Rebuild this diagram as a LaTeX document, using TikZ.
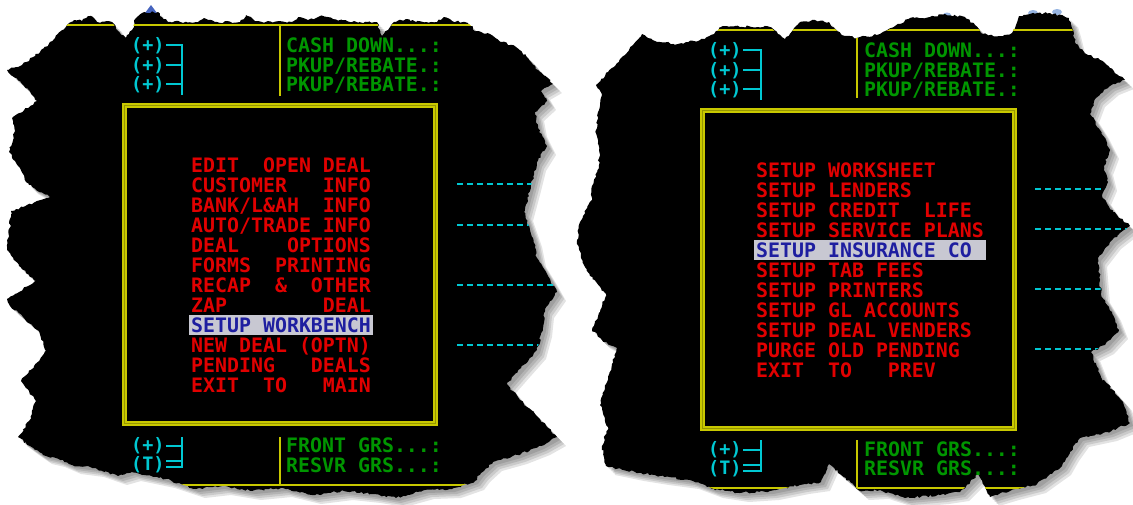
\documentclass[tikz,border=0pt]{standalone}
\usepackage{fontspec}
\setmonofont{DejaVu Sans Mono}
\usetikzlibrary{decorations.pathmorphing}

\definecolor{scrred}{RGB}{225,0,0}
\definecolor{scrgreen}{RGB}{0,150,0}
\definecolor{scrcyan}{RGB}{0,200,210}
\definecolor{ylw}{RGB}{200,200,0}
\definecolor{ylwdark}{RGB}{150,150,0}
\definecolor{barc}{RGB}{200,200,210}
\definecolor{barblue}{RGB}{30,30,160}
\definecolor{topblue}{RGB}{70,100,190}
\definecolor{skyblue}{RGB}{150,180,225}

\def\leftblob{(68,24) -- (74,20) -- (82,21) -- (88,16) -- (93,17) -- (97,22) -- (112,22) -- (118,31) -- (126,38) -- (132,30) -- (136,18) -- (142,13) -- (158,12) -- (162,17) -- (168,22) -- (198,22) -- (204,18) -- (211,20) -- (217,22) -- (240,22) -- (246,15) -- (251,17) -- (255,21) -- (262,22) -- (292,22) -- (300,17) -- (308,20) -- (320,16) -- (333,19) -- (350,22) -- (377,22) -- (382,36) -- (388,30) -- (394,22) -- (406,19) -- (416,22) -- (437,22) -- (444,17) -- (452,21) -- (468,23) -- (476,31) -- (490,34) -- (502,42) -- (516,47) -- (528,58) -- (538,70) -- (553,84) -- (541,91) -- (547,101) -- (535,112) -- (538,128) -- (547,146) -- (537,162) -- (531,186) -- (524,212) -- (533,238) -- (537,258) -- (548,276) -- (557,292) -- (545,309) -- (543,328) -- (537,350) -- (521,368) -- (507,384) -- (520,400) -- (538,417) -- (557,437) -- (541,446) -- (518,455) -- (493,462) -- (481,473) -- (475,481) -- (452,489) -- (425,490) -- (396,498) -- (372,494) -- (344,491) -- (312,495) -- (283,488) -- (252,491) -- (222,486) -- (196,489) -- (166,479) -- (132,472) -- (118,476) -- (95,468) -- (72,465) -- (56,458) -- (43,455) -- (30,446) -- (18,437) -- (29,421) -- (36,401) -- (21,381) -- (34,366) -- (46,351) -- (39,331) -- (10,306) -- (7,299) -- (36,281) -- (19,266) -- (7,250) -- (11,211) -- (50,197) -- (29,185) -- (9,152) -- (15,131) -- (12,118) -- (37,101) -- (24,86) -- (7,70) -- (22,65) -- (40,52) -- (55,38) -- cycle}
\def\rightblob{(596,85) -- (608,72) -- (615,66) -- (625,55) -- (633,45) -- (642,34) -- (648,38) -- (660,42) -- (678,44) -- (700,40) -- (714,34) -- (721,27) -- (735,26) -- (770,27) -- (778,34) -- (785,39) -- (793,30) -- (800,22) -- (815,20) -- (829,22) -- (836,30) -- (845,36) -- (857,38) -- (880,34) -- (900,24) -- (910,18) -- (930,17) -- (945,14) -- (965,17) -- (975,25) -- (983,34) -- (1000,36) -- (1012,33) -- (1019,16) -- (1030,14) -- (1050,13) -- (1069,18) -- (1072,28) -- (1076,44) -- (1086,54) -- (1100,60) -- (1110,68) -- (1125,80) -- (1110,86) -- (1096,98) -- (1090,114) -- (1100,130) -- (1110,150) -- (1104,166) -- (1108,182) -- (1102,196) -- (1113,212) -- (1130,226) -- (1112,240) -- (1098,258) -- (1101,294) -- (1112,312) -- (1119,330) -- (1105,345) -- (1091,352) -- (1101,377) -- (1123,402) -- (1130,423) -- (1108,432) -- (1080,438) -- (1070,452) -- (1062,466) -- (1048,476) -- (1037,484) -- (1010,491) -- (990,497) -- (978,474) -- (960,492) -- (940,495) -- (905,498) -- (880,490) -- (860,491) -- (829,464) -- (821,482) -- (800,485) -- (770,491) -- (740,493) -- (714,489) -- (690,480) -- (660,476) -- (635,472) -- (606,466) -- (602,446) -- (608,427) -- (600,405) -- (606,384) -- (612,364) -- (617,348) -- (602,340) -- (592,330) -- (600,312) -- (606,294) -- (590,276) -- (581,258) -- (577,240) -- (580,222) -- (592,200) -- (592,186) -- (599,168) -- (599,150) -- (596,130) -- (599,110) -- (602,95) -- cycle}

\begin{document}
\begin{tikzpicture}[x=1pt, y=-1pt,
    shade/.style={fill=black, fill opacity=0.11},
    jag/.style={decorate, decoration={random steps, segment length=2.5pt, amplitude=1.1pt}},
    frame/.style={draw=ylw, double=ylwdark, double distance=1pt, line width=2pt},
    rule/.style={draw=ylw, line width=2pt},
    link/.style={draw=scrcyan, line width=2pt},
    gap/.style={draw=scrcyan, line width=2pt, dash pattern=on 6pt off 4pt},
    scr/.style={anchor=base west, inner sep=0pt, font=\ttfamily\bfseries\fontsize{19.9}{20}\selectfont},
    menu/.style={scr, text=scrred},
    hilite/.style={scr, text=barblue, fill=barc, inner xsep=2pt, text height=17pt, text depth=3pt},
    money/.style={scr, text=scrgreen},
    key/.style={anchor=base west, inner sep=0pt, text=scrcyan, font=\ttfamily\bfseries\fontsize{18.5}{18.5}\selectfont}]
  \useasboundingbox [fill=white] (0,0) rectangle (1133,504);

  \fill[shade, shift={(3,3)}] \leftblob;
  \fill[shade, shift={(5,5)}] \leftblob;
  \fill[shade, shift={(7,7)}] \leftblob;
  \fill[shade, shift={(9,9)}] \leftblob;
  \fill[shade, shift={(3,3)}] \rightblob;
  \fill[shade, shift={(5,5)}] \rightblob;
  \fill[shade, shift={(7,7)}] \rightblob;
  \fill[shade, shift={(9,9)}] \rightblob;

  \fill[topblue] (145,13) -- (151,5) -- (157,13) -- cycle;
  \fill[skyblue] (947,15) ellipse (4 and 2.5);
  \fill[skyblue] (1033,13) ellipse (5 and 3);
  \fill[skyblue] (1057,12) ellipse (5 and 3);

  \pgfmathsetseed{7}
  \fill[jag] \leftblob;
  \begin{scope}
    \clip \leftblob;
    \draw[rule] (0,25) -- (560,25);
    \draw[rule] (0,485) -- (560,485);
    \draw[rule] (280,25) -- (280,96);
    \draw[rule] (280,437) -- (280,485);
    \draw[frame] (124.5,105.5) rectangle (435.5,423);

    \node (lplusa) [key] at (131,51) {(+)};
    \node (lplusb) [key] at (131,71) {(+)};
    \node (lplusc) [key] at (131,90) {(+)};
    \draw[link] (166,45) -- (182,45) -- (182,95);
    \draw[link] (166,65) -- (182,65);
    \draw[link] (166,84) -- (182,84);
    \node (lcash) [money] at (286,52) {CASH~DOWN...:};
    \node (lpkupa) [money] at (286,72) {PKUP/REBATE.:};
    \node (lpkupb) [money] at (286,91) {PKUP/REBATE.:};

    \node (ledit) [menu] at (191,172) {EDIT~~OPEN~DEAL};
    \node (lcust) [menu] at (191,192) {CUSTOMER~~~INFO};
    \node (lbank) [menu] at (191,212) {BANK/L\&AH~~INFO};
    \node (lauto) [menu] at (191,232) {AUTO/TRADE~INFO};
    \node (lopts) [menu] at (191,252) {DEAL~~~~OPTIONS};
    \node (lforms) [menu] at (191,272) {FORMS~~PRINTING};
    \node (lrecap) [menu] at (191,292) {RECAP~~\&~~OTHER};
    \node (lzap) [menu] at (191,312) {ZAP~~~~~~~~DEAL};
    \node (lsetup) [hilite] at (189,332) {SETUP~WORKBENCH};
    \node (lnew) [menu] at (191,352) {NEW~DEAL~(OPTN)};
    \node (lpend) [menu] at (191,372) {PENDING~~~DEALS};
    \node (lexit) [menu] at (191,392) {EXIT~~TO~~~MAIN};

    \draw[gap] (457,184) -- (560,184);
    \draw[gap] (457,225) -- (560,225);
    \draw[gap] (457,285) -- (560,285);
    \draw[gap] (457,345) -- (560,345);

    \node (lplusd) [key] at (131,451) {(+)};
    \node (ltot) [key] at (131,470) {(T)};
    \draw[link] (182,437) -- (182,467) -- (166,467);
    \draw[link] (166,446) -- (182,446);
    \draw[link] (166,461) -- (182,461);
    \node (lfront) [money] at (286,452) {FRONT~GRS...:};
    \node (lresvr) [money] at (286,472) {RESVR~GRS...:};
  \end{scope}

  \pgfmathsetseed{19}
  \fill[jag] \rightblob;
  \begin{scope}
    \clip \rightblob;
    \draw[rule] (570,30) -- (1133,30);
    \draw[rule] (570,488) -- (1133,488);
    \draw[rule] (857,30) -- (857,98);
    \draw[rule] (857,440) -- (857,488);
    \draw[frame] (702.5,110.5) rectangle (1014.5,428);

    \node (rplusa) [key] at (708,56) {(+)};
    \node (rplusb) [key] at (708,76) {(+)};
    \node (rplusc) [key] at (708,95) {(+)};
    \draw[link] (743,50) -- (761,50) -- (761,100);
    \draw[link] (743,70) -- (761,70);
    \draw[link] (743,89) -- (761,89);
    \node (rcash) [money] at (864,57) {CASH~DOWN...:};
    \node (rpkupa) [money] at (864,77) {PKUP/REBATE.:};
    \node (rpkupb) [money] at (864,96) {PKUP/REBATE.:};

    \node (rwork) [menu] at (756,177) {SETUP~WORKSHEET};
    \node (rlend) [menu] at (756,197) {SETUP~LENDERS};
    \node (rlife) [menu] at (756,217) {SETUP~CREDIT~~LIFE};
    \node (rplan) [menu] at (756,237) {SETUP~SERVICE~PLANS};
    \node (rins) [hilite] at (754,257) {SETUP~INSURANCE~CO\hphantom{X}};
    \node (rtab) [menu] at (756,277) {SETUP~TAB~FEES};
    \node (rprint) [menu] at (756,297) {SETUP~PRINTERS};
    \node (rgl) [menu] at (756,317) {SETUP~GL~ACCOUNTS};
    \node (rvend) [menu] at (756,337) {SETUP~DEAL~VENDERS};
    \node (rpurge) [menu] at (756,357) {PURGE~OLD~PENDING};
    \node (rexit) [menu] at (756,377) {EXIT~~TO~~~PREV};

    \draw[gap] (1035,189) -- (1133,189);
    \draw[gap] (1035,229) -- (1133,229);
    \draw[gap] (1035,289) -- (1133,289);
    \draw[gap] (1035,349) -- (1133,349);

    \node (rplusd) [key] at (708,455) {(+)};
    \node (rtot) [key] at (708,474) {(T)};
    \draw[link] (761,440) -- (761,471) -- (743,471);
    \draw[link] (743,450) -- (761,450);
    \draw[link] (743,465) -- (761,465);
    \node (rfront) [money] at (864,456) {FRONT~GRS...:};
    \node (rresvr) [money] at (864,475) {RESVR~GRS...:};
  \end{scope}
\end{tikzpicture}
\end{document}
